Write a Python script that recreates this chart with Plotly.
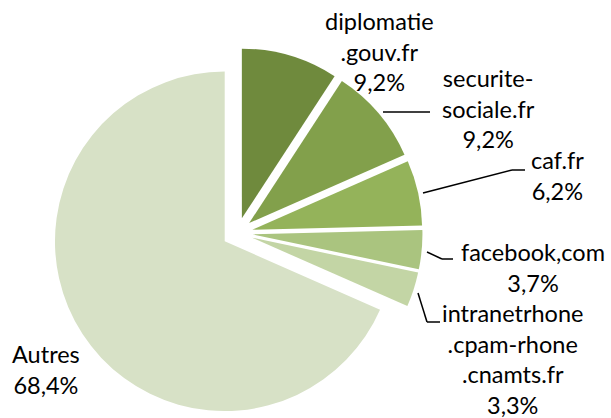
import plotly.graph_objects as go

# ---- data ----
labels = ["diplomatie.gouv.fr", "securite-sociale.fr", "caf.fr", "facebook,com",
          "intranetrhone.cpam-rhone.cnamts.fr", "Autres"]
label_lines = [["diplomatie", ".gouv.fr"], ["securite-", "sociale.fr"], ["caf.fr"],
               ["facebook,com"], ["intranetrhone", ".cpam-rhone", ".cnamts.fr"], ["Autres"]]
values = [9.2, 9.2, 6.2, 3.7, 3.3, 68.4]

# ---- style ----
colors = ["#6F8A3D", "#82A04B", "#94B35A", "#AAC47F", "#C3D5A5", "#D7E1C6"]
W, H = 611, 418
FONT = "Lato"

fig = go.Figure(go.Pie(
    labels=labels, values=values, sort=False, direction="clockwise", rotation=0,
    pull=[0.09] * len(values),
    marker=dict(colors=colors, line=dict(width=0)),
    textinfo="none", hoverinfo="label+percent", showlegend=False,
    domain=dict(x=[52.5 / W, 422.5 / W], y=[0, 370 / H]),
))

# label block centres (pixels)
label_pos = [(379, 51), (488, 108), (557, 175), (533, 267), (512, 359), (46, 369)]

annotations = []
for lines, v, (px, py) in zip(label_lines, values, label_pos):
    txt = "<br>".join(lines + [f"{v:.1f}".replace(".", ",") + "%"])
    annotations.append(dict(x=px / W, y=1 - py / H, xref="paper", yref="paper",
                            text=txt, showarrow=False, xanchor="center", yanchor="middle",
                            align="center", font=dict(family=FONT, size=23.5, color="black")))

leaders = [
    [(383, 112), (430, 112)],
    [(423, 193), (512, 170), (525, 170)],
    [(427, 252), (442, 259), (453, 259)],
    [(418, 293), (427, 322), (440, 322)],
]
shapes = []
for pts in leaders:
    for (x0, y0), (x1, y1) in zip(pts[:-1], pts[1:]):
        shapes.append(dict(type="line", xref="paper", yref="paper",
                           x0=x0 / W, y0=1 - y0 / H, x1=x1 / W, y1=1 - y1 / H,
                           line=dict(color="black", width=1.5)))

fig.update_layout(width=W, height=H, margin=dict(l=0, r=0, t=0, b=0),
                  paper_bgcolor="white", plot_bgcolor="white",
                  annotations=annotations, shapes=shapes)

fig.write_html("out.html")
